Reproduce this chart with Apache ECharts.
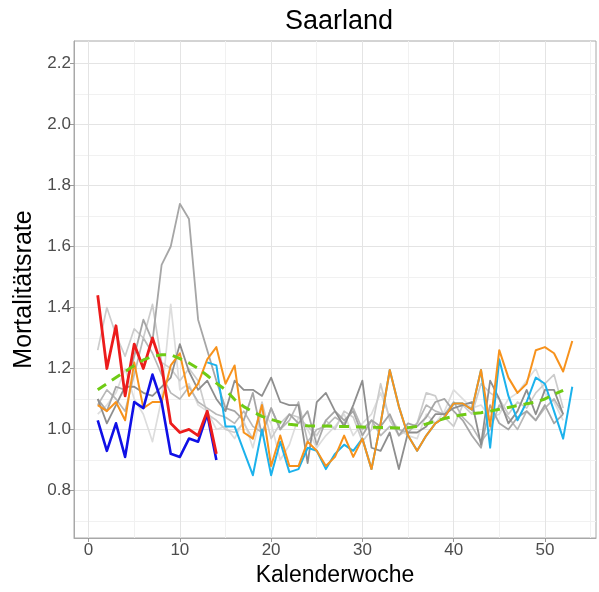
<!DOCTYPE html>
<html>
<head>
<meta charset="utf-8">
<script src="https://cdn.jsdelivr.net/npm/echarts@6/dist/echarts.min.js"></script>
<style>
  html, body { margin: 0; padding: 0; background: #fff; }
  #chart { width: 599px; height: 592px; }
</style>
</head>
<body>
<div id="chart"></div>
<script>
// Kalenderwochen
var weeks = [1, 2, 3, 4, 5, 6, 7, 8, 9, 10, 11, 12, 13, 14, 15, 16, 17, 18, 19, 20,
  21, 22, 23, 24, 25, 26, 27, 28, 29, 30, 31, 32, 33, 34, 35, 36, 37, 38, 39, 40,
  41, 42, 43, 44, 45, 46, 47, 48, 49, 50, 51, 52, 53];

// Vorjahre (grau)
var grayPeak = [1.10, 1.06, 1.14, 1.13, 1.24, 1.36, 1.29, 1.54, 1.60, 1.74, 1.69, 1.36, 1.26, 1.16, 1.07,
  1.06, 1.03, 1.12, 0.98, 1.07, 1.00, 1.05, 1.02, 1.06, 0.95, 1.03, 1.06, 1.03, 1.06, 0.98,
  1.03, 1.01, 1.05, 0.98, 1.02, 1.01, 1.04, 1.09, 1.10, 1.06, 1.03, 0.98, 0.94, 1.08, 1.02,
  1.00, 1.04, 1.06, 1.03, 1.08, 1.02, 1.05];
var grayDark = [1.10, 1.02, 1.08, 1.14, 1.14, 1.12, 1.11, 1.14, 1.17, 1.28, 1.19, 1.13, 1.16, 1.10, 1.06,
  1.16, 1.13, 1.13, 1.11, 1.17, 1.09, 1.08, 1.08, 0.89, 1.09, 1.12, 1.06, 1.01, 1.08, 1.16,
  0.94, 0.93, 0.99, 0.87, 0.99, 0.99, 1.01, 1.05, 1.05, 1.07, 1.08, 1.09, 0.95, 1.16, 1.10,
  1.02, 1.06, 1.13, 1.05, 1.13, 1.13, 1.05];
var grayLight = [1.26, 1.40, 1.31, 1.24, 1.33, 1.30, 1.41, 1.22, 1.20, 1.16, 1.20, 1.16, 1.05, 1.03, 1.00,
  0.99, 1.02, 0.97, 1.09, 0.97, 1.02, 1.05, 1.04, 1.01, 0.98, 1.03, 1.00, 1.06, 1.04, 0.96,
  1.00, 1.15, 1.03, 0.98, 1.00, 1.02, 1.12, 1.11, 1.04, 1.01, 1.08, 1.05, 1.15, 1.12, 1.10,
  1.05, 1.09, 1.07, 1.12, 1.15, 1.18, 1.07];
var grayPale = [1.05, 1.08, 1.12, 1.20, 1.10, 1.05, 0.96, 1.10, 1.41, 1.13, 1.15, 1.08, 1.06, 1.00, 1.01,
  0.97, 1.03, 0.94, 1.06, 1.02, 0.90, 0.95, 1.04, 1.00, 0.94, 0.98, 1.01, 1.05, 0.98, 1.02,
  1.05, 1.12, 1.04, 1.00, 0.98, 0.97, 1.05, 1.02, 1.06, 1.13, 1.10, 1.07, 1.08, 1.04, 1.05,
  1.10, 1.12, 1.16, 1.20, 1.12, 1.09, 1.03];
var grayMid = [1.08, 1.13, 1.10, 1.06, 1.18, 1.30, 1.25, 1.18, 1.12, 1.10, 1.14, 1.09, 1.07, 1.05, 1.04,
  1.02, 1.06, 1.01, 0.99, 1.07, 1.00, 1.03, 1.09, 0.96, 1.00, 1.01, 1.04, 1.02, 1.07, 1.00,
  1.03, 0.98, 1.01, 1.00, 0.99, 1.02, 1.08, 1.06, 1.05, 1.09, 1.04, 1.01, 0.96, 1.00, 1.08,
  1.04, 1.00, 1.06, 1.03, 1.07, 1.10, 1.05];

// orange: ganzes Jahr (53 Wochen)
var orangeVals = [1.08, 1.06, 1.09, 1.03, 1.22, 1.07, 1.09, 1.09, 1.21, 1.25, 1.11, 1.15, 1.23, 1.27, 1.15,
  1.21, 0.99, 0.97, 1.08, 0.88, 0.98, 0.88, 0.88, 0.96, 0.93, 0.88, 0.91, 0.98, 0.91, 0.97,
  0.87, 1.02, 1.195, 1.075, 0.98, 0.93, 0.98, 1.02, 1.04, 1.085, 1.085, 1.065, 1.195, 1.01, 1.26,
  1.17, 1.12, 1.15, 1.26, 1.27, 1.25, 1.19, 1.29];

// hellblau: ab Woche 13 (Wochen 30-43 deckungsgleich mit orange)
var lightBlueWeeks = [13, 14, 15, 16, 17, 18, 19, 20, 21, 22, 23, 24, 25, 26, 27, 28, 29, 30, 31, 32, 33,
  34, 35, 36, 37, 38, 39, 40, 41, 42, 43, 44, 45, 46, 47, 48, 49, 50, 51, 52, 53];
var lightBlueVals = [1.22, 1.21, 1.01, 1.01, 0.93, 0.85, 1.00, 0.85, 0.96, 0.86, 0.87, 0.94, 0.93, 0.87,
  0.92, 0.95, 0.93, 0.97, 0.87, 1.02, 1.195, 1.075, 0.98, 0.93, 0.98, 1.02, 1.04, 1.085, 1.085, 1.065,
  1.195, 0.94, 1.23, 1.11, 1.03, 1.09, 1.17, 1.15, 1.06, 0.97, 1.14];

// aktuelles Jahr, Wochen 1-14
var blueVals = [1.03, 0.93, 1.02, 0.91, 1.09, 1.07, 1.18, 1.09, 0.92, 0.91, 0.97, 0.96, 1.05, 0.90];
var redVals = [1.44, 1.20, 1.34, 1.11, 1.28, 1.20, 1.30, 1.21, 1.02, 0.99, 1.00, 0.98, 1.06, 0.92];

// Mittelwert (gruen gestrichelt), Wochen 1-52
var meanVals = [1.13, 1.15, 1.17, 1.19, 1.21, 1.228, 1.24, 1.245, 1.245, 1.232, 1.218, 1.20, 1.177, 1.152,
  1.13, 1.098, 1.075, 1.058, 1.043, 1.033, 1.024, 1.017, 1.014, 1.012, 1.011, 1.011, 1.01, 1.01,
  1.009, 1.008, 1.007, 1.006, 1.006, 1.005, 1.006, 1.01, 1.018, 1.027, 1.036, 1.043, 1.048,
  1.052, 1.055, 1.06, 1.066, 1.072, 1.078, 1.084, 1.09, 1.10, 1.115, 1.128];

function pairs(xs, ys) {
  return ys.map(function (v, i) { return [xs[i], v]; });
}

var font = "'Liberation Sans', Arial, sans-serif";

function lineSeries(name, xs, ys, color, width, type) {
  return {
    name: name,
    type: "line",
    data: pairs(xs, ys),
    symbol: "none",
    silent: true,
    lineStyle: { color: color, width: width, type: type || "solid", cap: "butt", join: "round" },
    xAxisIndex: 0,
    yAxisIndex: 0
  };
}

var myChart = echarts.init(document.getElementById("chart"), null, { renderer: "canvas" });

var option = {
  animation: false,
  backgroundColor: "#ffffff",
  title: {
    text: "Saarland",
    left: 280,
    top: 3,
    textStyle: { fontFamily: font, fontSize: 27, fontWeight: "normal", color: "#000" }
  },
  grid: {
    left: 74,
    right: 3,
    top: 41,
    bottom: 54,
    show: true,
    borderColor: "#a8a8a8",
    borderWidth: 1,
    backgroundColor: "#fff"
  },
  xAxis: [
    {
      type: "value",
      min: -1.6,
      max: 55.6,
      splitNumber: 5,
      z: 1,
      name: "Kalenderwoche",
      nameLocation: "middle",
      nameGap: 26,
      nameTextStyle: { fontFamily: font, fontSize: 23, color: "#000" },
      axisLine: { show: true, onZero: false, lineStyle: { color: "#a8a8a8", width: 1 } },
      axisTick: { show: true, length: 4, lineStyle: { color: "#999" } },
      axisLabel: {
        fontFamily: font, fontSize: 17, color: "#4d4d4d", margin: 4,
        showMinLabel: false, showMaxLabel: false
      },
      splitLine: { show: true, showMinLine: false, showMaxLine: false, lineStyle: { color: "#e4e4e4", width: 1 } }
    },
    {
      type: "value",
      min: -1.6,
      max: 55.6,
      splitNumber: 11,
      position: "top",
      z: 0,
      axisLine: { show: false, onZero: false },
      axisTick: { show: false },
      axisLabel: { show: false },
      splitLine: { show: true, showMinLine: false, showMaxLine: false, lineStyle: { color: "#f1f1f1", width: 1 } }
    }
  ],
  yAxis: [
    {
      type: "value",
      min: 0.644,
      max: 2.274,
      splitNumber: 8,
      z: 1,
      name: "Mortalitätsrate",
      nameLocation: "middle",
      nameGap: 32,
      nameTextStyle: { fontFamily: font, fontSize: 25, color: "#000" },
      axisLine: { show: true, onZero: false, lineStyle: { color: "#a8a8a8", width: 1 } },
      axisTick: { show: true, length: 4, lineStyle: { color: "#999" } },
      axisLabel: {
        fontFamily: font, fontSize: 17, color: "#4d4d4d", margin: 3,
        showMinLabel: false, showMaxLabel: false,
        formatter: function (v) { return v.toFixed(1); }
      },
      splitLine: { show: true, showMinLine: false, showMaxLine: false, lineStyle: { color: "#e4e4e4", width: 1 } }
    },
    {
      type: "value",
      min: 0.644,
      max: 2.274,
      splitNumber: 16,
      position: "right",
      z: 0,
      axisLine: { show: false, onZero: false },
      axisTick: { show: false },
      axisLabel: { show: false },
      splitLine: { show: true, showMinLine: false, showMaxLine: false, lineStyle: { color: "#f1f1f1", width: 1 } }
    }
  ],
  series: [
    lineSeries("pale", weeks, grayPale, "#dddddd", 1.7),
    lineSeries("light", weeks, grayLight, "#cccccc", 1.7),
    lineSeries("mid", weeks, grayMid, "#b8b8b8", 1.7),
    lineSeries("peak", weeks, grayPeak, "#a6a6a6", 1.8),
    lineSeries("dark", weeks, grayDark, "#8e8e8e", 1.8),
    lineSeries("hellblau", lightBlueWeeks, lightBlueVals, "#1cb2ec", 2),
    lineSeries("orange", weeks, orangeVals, "#f7921c", 2),
    lineSeries("blau", weeks, blueVals, "#1010e6", 2.6),
    lineSeries("rot", weeks, redVals, "#ec1c1c", 2.8),
    lineSeries("mittel", weeks, meanVals, "#6fcb14", 3, [10, 7])
  ]
};

myChart.setOption(option);
</script>
</body>
</html>
